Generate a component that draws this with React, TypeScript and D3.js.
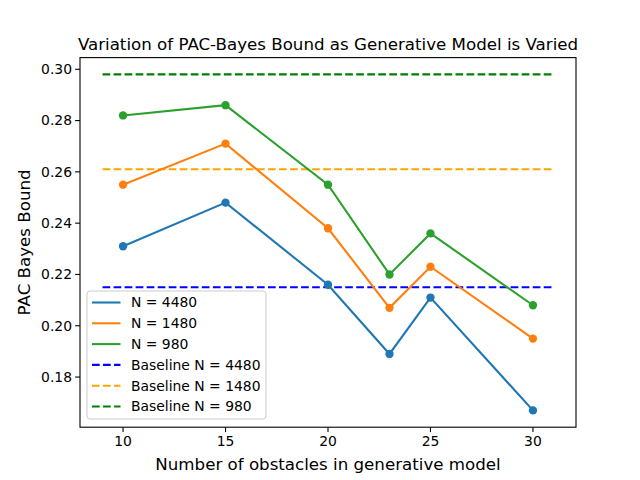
import React from "react";
import * as d3 from "d3";

// obstacles in the generative model
const obstacles = [10, 15, 20, 23, 25, 30];

const bound4480 = [0.231, 0.248, 0.216, 0.189, 0.211, 0.167];
const bound1480 = [0.255, 0.271, 0.238, 0.207, 0.223, 0.195];
const bound980 = [0.282, 0.286, 0.255, 0.22, 0.236, 0.208];

const baselineValues = [0.215, 0.261, 0.298];
const baselineSpan = [9, 31];

const xTicks = [10, 15, 20, 25, 30];
const yTicks = [0.18, 0.2, 0.22, 0.24, 0.26, 0.28, 0.3];

const series = [
  { label: "N = 4480", values: bound4480, color: "#1f77b4" },
  { label: "N = 1480", values: bound1480, color: "#ff7f0e" },
  { label: "N = 980", values: bound980, color: "#2ca02c" },
];

const baselines = [
  { label: "Baseline N = 4480", value: baselineValues[0], color: "blue" },
  { label: "Baseline N = 1480", value: baselineValues[1], color: "orange" },
  { label: "Baseline N = 980", value: baselineValues[2], color: "green" },
];

const W = 640;
const H = 480;
const margin = { top: 57.6, right: 64, bottom: 52.8, left: 80 };
const font = "DejaVu Sans, sans-serif";

const App: React.FC = () => {
  const x = d3
    .scaleLinear()
    .domain([7.9, 32.1])
    .range([margin.left, W - margin.right]);

  const allY = [...bound4480, ...bound1480, ...bound980, ...baselineValues];
  const yMin = d3.min(allY)!;
  const yMax = d3.max(allY)!;
  const pad = (yMax - yMin) * 0.05;
  const y = d3
    .scaleLinear()
    .domain([yMin - pad, yMax + pad])
    .range([H - margin.bottom, margin.top]);

  const line = d3
    .line<number>()
    .x((_, i) => x(obstacles[i]))
    .y((d) => y(d));

  const bottom = H - margin.bottom;

  // legend
  const legendItems = [
    ...series.map((s) => ({ label: s.label, color: s.color, dashed: false })),
    ...baselines.map((b) => ({ label: b.label, color: b.color, dashed: true })),
  ];
  const lgX = 87;
  const lgY = 291;
  const rowH = 20.8;

  return (
    <svg
      width={W}
      height={H}
      style={{ position: "absolute", left: 0, top: 0, background: "#fff" }}
      fontFamily={font}
    >
      <rect width={W} height={H} fill="#fff" />

      {/* baselines */}
      {baselines.map((b) => (
        <line
          key={b.label}
          x1={x(baselineSpan[0])}
          x2={x(baselineSpan[1])}
          y1={y(b.value)}
          y2={y(b.value)}
          stroke={b.color}
          strokeWidth={2.08}
          strokeDasharray="7.7,3.33"
        />
      ))}

      {/* series */}
      {series.map((s) => (
        <g key={s.label}>
          <path d={line(s.values)!} fill="none" stroke={s.color} strokeWidth={2.08} />
          {s.values.map((v, i) => (
            <circle key={i} cx={x(obstacles[i])} cy={y(v)} r={4.17} fill={s.color} />
          ))}
        </g>
      ))}

      {/* axes frame */}
      <rect
        x={margin.left}
        y={margin.top}
        width={W - margin.left - margin.right}
        height={H - margin.top - margin.bottom}
        fill="none"
        stroke="#000"
        strokeWidth={1.1}
      />

      {xTicks.map((t) => (
        <g key={t}>
          <line x1={x(t)} x2={x(t)} y1={bottom} y2={bottom + 4.86} stroke="#000" strokeWidth={1.1} />
          <text x={x(t)} y={bottom + 19} textAnchor="middle" fontSize={13.9}>
            {t}
          </text>
        </g>
      ))}

      {yTicks.map((t) => (
        <g key={t}>
          <line
            x1={margin.left - 4.86}
            x2={margin.left}
            y1={y(t)}
            y2={y(t)}
            stroke="#000"
            strokeWidth={1.1}
          />
          <text
            x={margin.left - 8}
            y={y(t)}
            dy="0.35em"
            textAnchor="end"
            fontSize={13.9}
          >
            {t.toFixed(2)}
          </text>
        </g>
      ))}

      <text x={(margin.left + W - margin.right) / 2} y={50} textAnchor="middle" fontSize={16.67}>
        Variation of PAC-Bayes Bound as Generative Model is Varied
      </text>
      <text x={(margin.left + W - margin.right) / 2} y={470} textAnchor="middle" fontSize={16.67}>
        Number of obstacles in generative model
      </text>
      <text
        transform={`translate(30,${(margin.top + bottom) / 2}) rotate(-90)`}
        textAnchor="middle"
        fontSize={16.67}
      >
        PAC Bayes Bound
      </text>

      {/* legend */}
      <rect
        x={lgX}
        y={lgY}
        width={179}
        height={128}
        rx={3}
        fill="#fff"
        fillOpacity={0.8}
        stroke="#cccccc"
        strokeWidth={1}
      />
      {legendItems.map((it, i) => {
        const cy = lgY + 11.5 + i * rowH;
        return (
          <g key={it.label}>
            <line
              x1={lgX + 5}
              x2={lgX + 33.5}
              y1={cy}
              y2={cy}
              stroke={it.color}
              strokeWidth={2.08}
              strokeDasharray={it.dashed ? "7.7,3.33" : undefined}
            />
            <text x={lgX + 44} y={cy} dy="0.35em" fontSize={13.9}>
              {it.label}
            </text>
          </g>
        );
      })}
    </svg>
  );
};

export default App;
